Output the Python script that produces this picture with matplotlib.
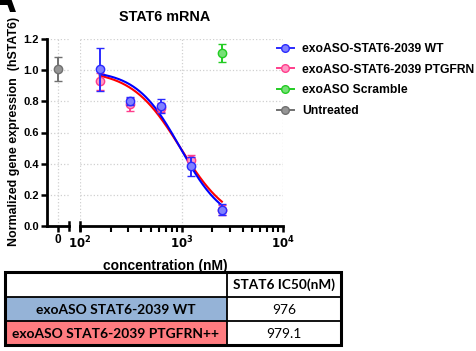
import numpy as np
import matplotlib
matplotlib.use("Agg")
import matplotlib.pyplot as plt
from matplotlib.lines import Line2D
from matplotlib.patches import Rectangle

plt.rcParams['font.family'] = ['Liberation Sans', 'DejaVu Sans']

# ---------------- data ----------------
conc = [156.25, 312.5, 625, 1250, 2500]
wt_mean = [1.007, 0.803, 0.769, 0.382, 0.105]
wt_err = [0.138, 0.028, 0.047, 0.060, 0.033]
ptg_mean = [0.928, 0.780, 0.760, 0.425, 0.102]
ptg_err = [0.055, 0.040, 0.030, 0.033, 0.030]
scr_conc = [2500]
scr_mean = [1.110]
scr_err = [0.055]
untreated_mean = [1.005]
untreated_err = [0.077]

# fitted curve parameters (IC50 from table)
wt_fit = dict(top=1.0, bottom=0.0, ic50=976.0, hill=2.0)
ptg_fit = dict(top=1.0, bottom=0.0, ic50=979.1, hill=1.8)

legend_labels = ["exoASO-STAT6-2039 WT", "exoASO-STAT6-2039 PTGFRN",
                 "exoASO Scramble", "Untreated"]
table_header = "STAT6 IC50(nM)"
table_rows = ["exoASO STAT6-2039 WT", "exoASO STAT6-2039 PTGFRN++"]
table_vals = ["976", "979.1"]
yticks = [0.0, 0.2, 0.4, 0.6, 0.8, 1.0, 1.2]

# ---------------- styles ----------------
c_wt, f_wt = '#2a2aff', '#8080ff'
c_ptg, f_ptg = '#ff3d8b', '#ff99c4'
c_scr, f_scr = '#22cc22', '#77e077'
c_unt, f_unt = '#707070', '#959595'
row_colors = ['#95B3D7', '#FF7C80']

W, H = 476, 351
fig = plt.figure(figsize=(W / 100, H / 100), dpi=100)


def fx(px):
    return px / W


def fy(py):
    return 1 - py / H


top_px, bot_px = 39, 226
axL = fig.add_axes([fx(47), fy(bot_px), fx(69) - fx(47), fy(top_px) - fy(bot_px)])
axR = fig.add_axes([fx(80), fy(bot_px), fx(283) - fx(80), fy(top_px) - fy(bot_px)])

def hill(x, p):
    x = np.asarray(x)
    return p['bottom'] + (p['top'] - p['bottom']) / (1 + (x / p['ic50']) ** p['hill'])

ebkw = dict(capsize=3, elinewidth=1.4, capthick=1.4, ms=6, mew=1.0, ls='none')

# left segment: untreated
axL.errorbar([0], untreated_mean, yerr=untreated_err, fmt='o', color=c_unt,
             mfc=f_unt, mec=c_unt, ecolor=c_unt, **ebkw)
axL.set_xlim(-1, 1)
axL.set_ylim(0, 1.2)
axL.set_xticks([0])
axL.set_xticklabels(['0'])
axL.set_yticks(yticks)
axL.set_yticklabels([f"{v:.1f}" for v in yticks])

# right segment
xs = np.logspace(np.log10(conc[0]), np.log10(conc[-1]), 200)
axR.plot(xs, hill(xs, ptg_fit), color='#ff0000', lw=1.5, zorder=3)
axR.plot(xs, hill(xs, wt_fit), color='#0000ff', lw=1.5, zorder=3)
axR.errorbar(conc, ptg_mean, yerr=ptg_err, fmt='o', color=c_ptg, mfc=f_ptg,
             mec=c_ptg, ecolor=c_ptg, zorder=4, **ebkw)
axR.errorbar(conc, wt_mean, yerr=wt_err, fmt='o', color=c_wt, mfc=f_wt,
             mec=c_wt, ecolor=c_wt, zorder=5, **ebkw)
axR.errorbar(scr_conc, scr_mean, yerr=scr_err, fmt='o', color=c_scr, mfc=f_scr,
             mec=c_scr, ecolor=c_scr, zorder=5, **ebkw)
axR.set_xscale('log')
axR.set_xlim(100, 10000)
axR.set_ylim(0, 1.2)
axR.set_yticks(yticks)
axR.set_xticks([100, 1000, 10000])
axR.set_xticklabels([r'$\mathbf{10^{2}}$', r'$\mathbf{10^{3}}$', r'$\mathbf{10^{4}}$'])
axR.tick_params(axis='y', left=False, labelleft=False)

for ax in (axL, axR):
    for s in ('top', 'right'):
        ax.spines[s].set_visible(False)
    ax.spines['bottom'].set_linewidth(2)
    ax.spines['left'].set_linewidth(2)
    ax.grid(True, which='major', color='#d0d0d0', ls=':', lw=0.9)
    ax.set_axisbelow(True)
    ax.tick_params(axis='both', which='major', length=4, width=1.8, labelsize=8, pad=2)
    ax.tick_params(axis='x', which='minor', length=4, width=1.5)
    ax.set_facecolor('none')
    for lab in ax.get_xticklabels() + ax.get_yticklabels():
        lab.set_fontweight('bold')
axR.spines['left'].set_visible(False)
axR.tick_params(axis='x', which='minor', labelbottom=False)
axR.tick_params(axis='x', which='major', labelsize=8.5)
axL.tick_params(axis='x', which='major', labelsize=8.5)

# break marks
for ax, xa in ((axL, 1.0), (axR, 0.0)):
    ax.plot([xa, xa], [-0.022, 0.022], transform=ax.transAxes, color='k',
            lw=1.8, clip_on=False, zorder=6)

# texts
fig.text(fx(165), fy(17), "STAT6 mRNA", ha='center', va='center',
         fontsize=10.4, fontweight='bold')
fig.text(fx(14), fy(131), "Normalized gene expression  (hSTAT6)", rotation=90,
         ha='center', va='center', fontsize=8.9, fontweight='bold')
fig.text(fx(165), fy(266), "concentration (nM)", ha='center', va='center',
         fontsize=10, fontweight='bold')
fig.text(fx(17), fy(12), "A", ha='right', va='baseline', fontsize=30,
         fontweight='bold')

# legend
handles = [
    Line2D([], [], color=c_wt, marker='o', mfc=f_wt, mec=c_wt, ms=5.5, lw=1.4),
    Line2D([], [], color=c_ptg, marker='o', mfc=f_ptg, mec=c_ptg, ms=5.5, lw=1.4),
    Line2D([], [], color=c_scr, marker='o', mfc=f_scr, mec=c_scr, ms=5.5, lw=1.4),
    Line2D([], [], color=c_unt, marker='o', mfc=f_unt, mec=c_unt, ms=5.5, lw=1.4),
]
leg = fig.legend(handles, legend_labels, loc='upper left',
                 bbox_to_anchor=(fx(277), fy(43)), frameon=False,
                 prop=dict(size=8.7, weight='bold'), handlelength=1.4,
                 handletextpad=0.7, labelspacing=0.72, borderpad=0,
                 borderaxespad=0)

# table
tl, tt, tr, tb = 5, 272, 341, 345
axT = fig.add_axes([fx(tl), fy(tb), fx(tr) - fx(tl), fy(tt) - fy(tb)])
axT.set_xlim(0, tr - tl)
axT.set_ylim(tb - tt, 0)
axT.axis('off')
col_x = 227 - tl
row_y = [0, 25, 49, 73]
for i, col in enumerate(row_colors):
    axT.add_patch(Rectangle((0, row_y[i + 1]), col_x, row_y[i + 2] - row_y[i + 1],
                            facecolor=col, edgecolor='none'))
for y in row_y[1:3]:
    axT.plot([0, tr - tl], [y, y], color='k', lw=1.3)
axT.plot([col_x, col_x], [0, row_y[-1]], color='k', lw=1.3)
axT.add_patch(Rectangle((0, 0), tr - tl, row_y[-1], facecolor='none',
                        edgecolor='k', lw=2.2, clip_on=False))
tfont = ['Lato', 'DejaVu Sans']
axT.text((col_x + tr - tl) / 2, 16.5, table_header, ha='center', va='baseline',
         fontsize=9.8, fontweight='bold', family=tfont)
for i, (name, val) in enumerate(zip(table_rows, table_vals)):
    yb = row_y[i + 1] + 17.5
    axT.text(col_x / 2, yb, name, ha='center', va='baseline', fontsize=9.9,
             fontweight='bold', family=tfont)
    axT.text((col_x + tr - tl) / 2, yb, val, ha='center', va='baseline',
             fontsize=9.9, family=tfont)

fig.savefig('out.png', dpi=100)
